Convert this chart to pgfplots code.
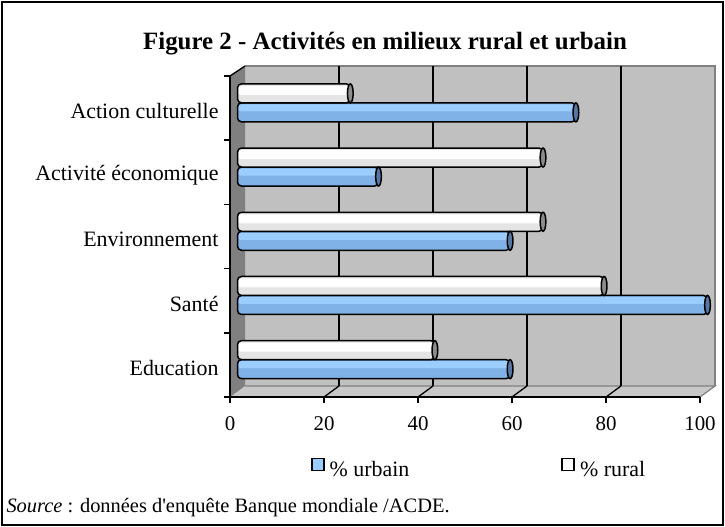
\documentclass[border=0pt]{standalone}
\usepackage{pgfplots}
\pgfplotsset{compat=1.18}
\usepackage{fontspec}
\setmainfont{Liberation Serif}
\definecolor{wallback}{RGB}{192,192,192}
\definecolor{wallfloor}{RGB}{200,200,200}
\definecolor{wallside}{RGB}{128,128,128}
\definecolor{blueBase}{RGB}{128,178,232}
\definecolor{blueHi}{RGB}{155,205,255}
\definecolor{blueLeg}{RGB}{153,204,255}
\definecolor{capblue}{RGB}{85,120,165}
\definecolor{capgray}{RGB}{140,140,140}
\definecolor{whiteBase}{RGB}{228,228,228}
\begin{document}
\begin{tikzpicture}[x=1bp,y=1bp]
\useasboundingbox (0,0) rectangle (725,-527);
\draw[line width=2bp] (2,-2) rectangle (723,-525);
\node[font=\bfseries\fontsize{25}{28}\selectfont] at (385,-44) {Figure 2 - Activités en milieux rural et urbain};
% 3D walls (decoration)
\fill[wallback] (245,-66) rectangle (715,-386);
\draw[wallside, line width=1.2bp] (245,-66) -- (715,-66) -- (715,-386);
\fill[wallfloor] (230,-397) -- (245,-386) -- (715,-386) -- (700,-397) -- cycle;
\draw[wallside, line width=1.2bp] (245,-386) -- (715,-386) -- (700,-397);
\fill[wallside] (230,-76) -- (245,-66) -- (245,-386) -- (230,-397) -- cycle;
\draw[line width=1.3bp] (230,-76) -- (245,-66);
\foreach \k in {1,...,4} \draw[line width=1.3bp] (245+94*\k,-66) -- (245+94*\k,-386);
\foreach \k in {1,...,4} \draw[line width=1.3bp] (230+94*\k,-397) -- (245+94*\k,-386);
\pgfplotstableread{
y urbain rural
0 58 42
1 100 78
2 58 65
3 30 65
4 72 24
}\datatable
\begin{axis}[
  at={(230bp,-397bp)}, anchor=south west,
  width=470bp, height=321bp, scale only axis,
  xmin=0, xmax=100, ymin=-0.5, ymax=4.5,
  clip=false,
  axis x line*=bottom, axis y line*=left,
  axis line style={line width=1.5bp, -},
  xtick={0,20,...,100},
  ytick={-0.5,0.5,...,4.5},
  yticklabels={},
  extra y ticks={0,1,2,3,4},
  extra y tick labels={Education,Santé,Environnement,Activité économique,Action culturelle},
  extra y tick style={tick style={draw=none}},
  tick align=outside,
  major tick length=6bp,
  tick style={line width=1.5bp, black},
  /pgf/number format/assume math mode=true,
  xticklabel style={font=\fontsize{21}{24}\selectfont, yshift=-10bp},
  yticklabel style={font=\fontsize{22}{25}\selectfont, xshift=-2bp, yshift=-3bp},
  legend style={at={(0.53,-0.224)}, anchor=center, draw=none, fill=none,
    font=\fontsize{22}{25}\selectfont,
    /tikz/every odd column/.append style={column sep=3bp},
    /tikz/every even column/.append style={column sep=150bp}},
  legend columns=2,
  every axis plot/.append style={xshift=7.5bp, yshift=5.25bp, forget plot},
]
% urbain: base, highlight, outline
\addplot[xbar, bar width=19bp, bar shift=-9.5bp, draw=none, fill=blueBase, rounded corners=4bp]
  table[x=urbain, y=y] {\datatable};
\addplot[xbar, bar width=7bp, bar shift=-5bp, draw=none, fill=blueHi, rounded corners=3bp]
  table[x=urbain, y=y] {\datatable};
\addplot[xbar, bar width=19bp, bar shift=-9.5bp, draw=black, line width=1.5bp, fill=none, rounded corners=4bp]
  table[x=urbain, y=y] {\datatable};
% rural: base, highlight, outline
\addplot[xbar, bar width=19bp, bar shift=9.5bp, draw=none, fill=whiteBase, rounded corners=4bp]
  table[x=rural, y=y] {\datatable};
\addplot[xbar, bar width=9bp, bar shift=12.5bp, draw=none, fill=white, rounded corners=3bp]
  table[x=rural, y=y] {\datatable};
\addplot[xbar, bar width=19bp, bar shift=9.5bp, draw=black, line width=1.5bp, fill=none, rounded corners=4bp]
  table[x=rural, y=y] {\datatable};
% end caps
\addplot[only marks, mark=*, mark size=9.5bp, yshift=-9.5bp,
  mark options={xscale=0.3, draw=black, line width=1.5bp, fill=capblue}]
  table[x=urbain, y=y] {\datatable};
\addplot[only marks, mark=*, mark size=9.5bp, yshift=9.5bp,
  mark options={xscale=0.3, draw=black, line width=1.5bp, fill=capgray}]
  table[x=rural, y=y] {\datatable};
\addlegendimage{legend image code/.code={\draw[draw=black, line width=1.8bp, fill=blueLeg] (0bp,-6bp) rectangle (12bp,6bp);}}
\addlegendentry{\% urbain}
\addlegendimage{legend image code/.code={\draw[draw=black, line width=1.8bp, fill=white] (0bp,-6bp) rectangle (12bp,6bp);}}
\addlegendentry{\% rural}
\end{axis}
\node[anchor=west, font=\fontsize{20.5}{23}\selectfont] at (3,-508) {\textit{Source} : données d\textquotesingle enquête Banque mondiale /ACDE.};
\end{tikzpicture}
\end{document}
